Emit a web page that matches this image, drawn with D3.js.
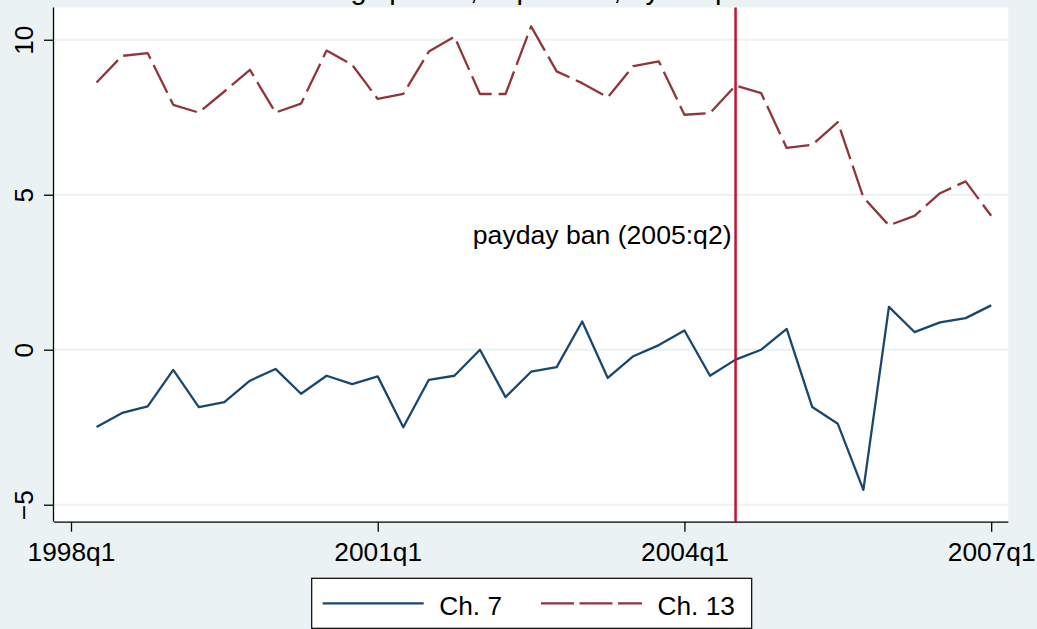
<!DOCTYPE html>
<html>
<head>
<meta charset="utf-8">
<script src="https://cdn.jsdelivr.net/npm/d3@7"></script>
<style>
  html, body { margin: 0; padding: 0; background: #eaf2f3; }
  svg { display: block; }
  text { font-family: "Liberation Sans", Arial, sans-serif; fill: #000; }
</style>
</head>
<body>
<svg id="chart" width="1037" height="629"></svg>
<script>
// ---- data ----
const quarters = ["1998q2","1998q3","1998q4","1999q1","1999q2","1999q3","1999q4",
  "2000q1","2000q2","2000q3","2000q4","2001q1","2001q2","2001q3","2001q4",
  "2002q1","2002q2","2002q3","2002q4","2003q1","2003q2","2003q3","2003q4",
  "2004q1","2004q2","2004q3","2004q4","2005q1","2005q2","2005q3","2005q4",
  "2006q1","2006q2","2006q3","2006q4","2007q1"];
const ch7 = [-2.49, -2.04, -1.83, -0.65, -1.85, -1.69, -1.00, -0.62, -1.42, -0.84, -1.11, -0.86,
  -2.50, -0.97, -0.84, 0.00, -1.53, -0.71, -0.56, 0.91, -0.91, -0.21, 0.15, 0.62,
  -0.84, -0.32, 0.00, 0.67, -1.85, -2.39, -4.52, 1.38, 0.57, 0.88, 1.02, 1.43];
const ch13 = [8.62, 9.48, 9.57, 7.90, 7.65, 8.33, 9.03, 7.65, 7.94, 9.65, 9.19, 8.09,
  8.25, 9.62, 10.10, 8.25, 8.25, 10.43, 8.98, 8.60, 8.14, 9.15, 9.30, 7.58,
  7.63, 8.52, 8.28, 6.51, 6.61, 7.34, 4.92, 4.01, 4.32, 5.05, 5.43, 4.32];
const xTickLabels = ["1998q1", "2001q1", "2004q1", "2007q1"];
const yTicks = [-5, 0, 5, 10];
const seriesNames = ["Ch. 7", "Ch. 13"];
const banQuarter = "2004q3";
const banLabel = "payday ban (2005:q2)";
const banLabelY = 3.7;
const titleText = "Filings per 1k, in percent, by chapter";

// ---- helpers ----
function qIndex(q) { // quarters since 1998q1
  const y = +q.slice(0, 4), k = +q.slice(5);
  return (y - 1998) * 4 + (k - 1);
}

const svg = d3.select("#chart");
const W = 1037, H = 629;
const plot = { left: 54, right: 1008.3, top: 7.5, bottom: 521.7 };

svg.append("rect").attr("width", W).attr("height", H).attr("fill", "#eaf2f3");

const x = d3.scaleLinear().domain([-0.665, 36.67]).range([plot.left, plot.right]);
const y = d3.scaleLinear().domain([-5.548, 11.04]).range([plot.bottom, plot.top]);

// plot region
svg.append("rect")
  .attr("x", plot.left).attr("y", plot.top)
  .attr("width", plot.right - plot.left).attr("height", plot.bottom - plot.top)
  .attr("fill", "#ffffff");

// gridlines
svg.append("g").selectAll("line").data(yTicks).join("line")
  .attr("x1", plot.left).attr("x2", plot.right)
  .attr("y1", d => y(d)).attr("y2", d => y(d))
  .attr("stroke", "#eaf2f3").attr("stroke-width", 2);

// title (cut off at top, as in the reference)
svg.append("text")
  .attr("x", (plot.left + plot.right) / 2).attr("y", -1)
  .attr("text-anchor", "middle").attr("font-size", 29)
  .text(titleText);

// series
const line = d3.line().x(d => x(qIndex(d.q))).y(d => y(d.v));
const d7 = quarters.map((q, i) => ({ q, v: ch7[i] }));
const d13 = quarters.map((q, i) => ({ q, v: ch13[i] }));

svg.append("path").datum(d13).attr("d", line)
  .attr("fill", "none").attr("stroke", "#90353b").attr("stroke-width", 2.3)
  .attr("stroke-dasharray", "31,7").attr("stroke-linejoin", "round");

svg.append("path").datum(d7).attr("d", line)
  .attr("fill", "none").attr("stroke", "#1a476f").attr("stroke-width", 2.3)
  .attr("stroke-linejoin", "round");

// vertical ban line
const bx = x(qIndex(banQuarter));
svg.append("line")
  .attr("x1", bx).attr("x2", bx).attr("y1", plot.top).attr("y2", plot.bottom)
  .attr("stroke", "#c8102e").attr("stroke-width", 2.5);

svg.append("text")
  .attr("x", bx - 4).attr("y", y(banLabelY)).attr("dy", "0.35em")
  .attr("text-anchor", "end").attr("font-size", 26.6)
  .text(banLabel);

// axes
const xAxis = d3.axisBottom(x)
  .tickValues(xTickLabels.map(qIndex))
  .tickFormat(d => xTickLabels[xTickLabels.map(qIndex).indexOf(d)])
  .tickSize(10).tickPadding(11);
const gx = svg.append("g").attr("transform", `translate(0,${plot.bottom})`).call(xAxis);
gx.select(".domain").attr("d", `M${plot.left},0.5H${plot.right}`).attr("stroke", "#000").attr("stroke-width", 1.3);
gx.selectAll(".tick line").attr("stroke", "#000").attr("stroke-width", 1.3);
gx.selectAll(".tick text").attr("font-size", 26.3).attr("font-family", "Liberation Sans, Arial, sans-serif").attr("fill", "#000");

const yAxis = d3.axisLeft(y).tickValues(yTicks).tickFormat(d3.format("d")).tickSize(10).tickPadding(0);
const gy = svg.append("g").attr("transform", `translate(${plot.left},0)`).call(yAxis);
gy.select(".domain").attr("d", `M-0.5,${plot.top}V${plot.bottom}`).attr("stroke", "#000").attr("stroke-width", 1.3);
gy.selectAll(".tick line").attr("stroke", "#000").attr("stroke-width", 1.3);
gy.selectAll(".tick text")
  .attr("font-size", 26.3).attr("font-family", "Liberation Sans, Arial, sans-serif").attr("fill", "#000")
  .attr("text-anchor", "middle").attr("x", null).attr("dy", null)
  .attr("transform", "translate(-21,0) rotate(-90)");

// legend
const lg = svg.append("g");
lg.append("rect").attr("x", 311.7).attr("y", 578.3).attr("width", 440).attr("height", 50)
  .attr("fill", "#ffffff").attr("stroke", "#000").attr("stroke-width", 1.2);
const legendItems = [
  { name: seriesNames[0], color: "#1a476f", dash: null, x0: 322.7 },
  { name: seriesNames[1], color: "#90353b", dash: "33,5.5", x0: 541 }
];
legendItems.forEach(it => {
  lg.append("line").attr("x1", it.x0).attr("x2", it.x0 + 101).attr("y1", 603.3).attr("y2", 603.3)
    .attr("stroke", it.color).attr("stroke-width", 2.3)
    .attr("stroke-dasharray", it.dash);
  lg.append("text").attr("x", it.x0 + 116.5).attr("y", 614.5).attr("font-size", 26.3).text(it.name);
});
</script>
</body>
</html>
